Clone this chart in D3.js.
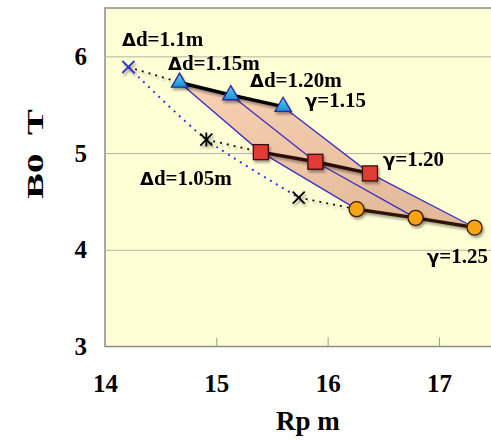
<!DOCTYPE html>
<html>
<head>
<meta charset='UTF-8'>
<title>B0 vs Rp</title>
<script src='https://cdn.jsdelivr.net/npm/d3@7/dist/d3.min.js'></script>
<style>
  body {margin:0; background:#fff;}
  text {font-family:'Liberation Serif','Times New Roman',serif; font-weight:bold; fill:#000;}
  .sym {font-family:'DejaVu Sans',sans-serif; font-weight:bold;}
</style>
</head>
<body>
<div id='chart'></div>
<script>
// ---- data ----
var rpTri = [14.67, 15.13, 15.60];   // gamma = 1.15 row
var b0Tri = [5.73, 5.60, 5.48];
var rpSq = [15.40, 15.89, 16.38];    // gamma = 1.20 row
var b0Sq = [5.01, 4.91, 4.79];
var rpCirc = [16.26, 16.79, 17.32];  // gamma = 1.25 row
var b0Circ = [4.42, 4.33, 4.23];
var rpCross = [14.21, 14.91, 15.74]; // delta d = 1.05m points
var b0Cross = [5.89, 5.14, 4.54];
var xTicks = [14, 15, 16, 17];
var yTicks = [3, 4, 5, 6];

var W = 491, H = 440;
var pLeft = 105, pTop = 8, pRight = 494.6, pBottom = 346.5;

var x = d3.scaleLinear().domain([14, 17.5]).range([pLeft, pRight]);
var y = d3.scaleLinear().domain([3, 6.5]).range([pBottom, pTop]);

var svg = d3.select('#chart').append('svg')
  .attr('width', W).attr('height', H);

var defs = svg.append('defs');
var sh = defs.append('filter').attr('id', 'shadow')
  .attr('x', '-50%').attr('y', '-50%').attr('width', '200%').attr('height', '200%');
sh.append('feDropShadow').attr('dx', 1.5).attr('dy', 2.5)
  .attr('stdDeviation', 1.2).attr('flood-color', '#000').attr('flood-opacity', 0.35);

var grad = defs.append('linearGradient').attr('id', 'band')
  .attr('x1', '0').attr('y1', '0').attr('x2', '1').attr('y2', '1');
grad.append('stop').attr('offset', '0%').attr('stop-color', '#f8d2b2');
grad.append('stop').attr('offset', '100%').attr('stop-color', '#dfb696');

var triGrad = defs.append('linearGradient').attr('id', 'tri')
  .attr('x1', '0').attr('y1', '0').attr('x2', '0').attr('y2', '1');
triGrad.append('stop').attr('offset', '0%').attr('stop-color', '#5fd0f5');
triGrad.append('stop').attr('offset', '100%').attr('stop-color', '#1a8fd6');

/* plot background */
svg.append('rect')
  .attr('x', pLeft).attr('y', pTop)
  .attr('width', W - pLeft + 5).attr('height', pBottom - pTop)
  .attr('fill', '#ffffd6')
  .attr('stroke', '#8c8c8c').attr('stroke-width', 1.5);

/* horizontal grid */
svg.append('g')
  .attr('transform', `translate(${pLeft},0)`)
  .call(d3.axisLeft(y).tickValues([4, 5, 6]).tickSize(-(W - pLeft)).tickFormat(''))
  .call(g => g.select('.domain').remove())
  .call(g => g.selectAll('line').attr('stroke', '#b4b4a2').attr('stroke-width', 1));

/* short inner ticks on x */
svg.append('g')
  .attr('transform', `translate(0,${pBottom})`)
  .call(d3.axisTop(x).tickValues([15, 16, 17]).tickSize(9).tickFormat(''))
  .call(g => g.select('.domain').remove())
  .call(g => g.selectAll('line').attr('stroke', '#9a9a88'));

/* axes labels */
svg.append('g')
  .attr('transform', `translate(${pLeft},0)`)
  .call(d3.axisLeft(y).tickValues(yTicks).tickSize(0).tickPadding(18).tickFormat(d3.format('d')))
  .call(g => g.select('.domain').remove())
  .call(g => g.selectAll('text').style('font-size', '25px').attr('fill', '#000'));

svg.append('g')
  .attr('transform', `translate(0,${pBottom})`)
  .call(d3.axisBottom(x).tickValues(xTicks).tickSize(0).tickPadding(28).tickFormat(d3.format('d')))
  .call(g => g.select('.domain').remove())
  .call(g => g.selectAll('text').style('font-size', '25px').attr('fill', '#000'));

svg.append('text')
  .attr('x', 308).attr('y', 430)
  .attr('text-anchor', 'middle')
  .style('font-size', '27px')
  .text('Rp m');

svg.append('text')
  .attr('transform', 'translate(43,154) rotate(-90)')
  .attr('text-anchor', 'middle')
  .attr('textLength', 90)
  .attr('lengthAdjust', 'spacingAndGlyphs')
  .style('font-size', '23px')
  .style('white-space', 'pre')
  .text('B0  T');

/* shaded band */
var band = [];
rpTri.forEach((v, i) => band.push([v, b0Tri[i]]));
band.push([rpSq[2], b0Sq[2]]);
for (var i = 2; i >= 0; i--) band.push([rpCirc[i], b0Circ[i]]);
band.push([rpSq[0], b0Sq[0]]);

var line = d3.line().x(d => x(d[0])).y(d => y(d[1]));

svg.append('path')
  .attr('d', line(band) + 'Z')
  .attr('fill', 'url(#band)');

/* constant delta d lines */
for (var i = 0; i < 3; i++) {
  svg.append('path')
    .attr('d', line([[rpTri[i], b0Tri[i]], [rpSq[i], b0Sq[i]], [rpCirc[i], b0Circ[i]]]))
    .attr('fill', 'none')
    .attr('stroke', '#3b2fc4')
    .attr('stroke-width', 1.3);
}

/* blue dotted curve through the crosses */
var curve = d3.line().x(d => x(d[0])).y(d => y(d[1])).curve(d3.curveCardinal.tension(0.3));
svg.append('path')
  .attr('d', curve(rpCross.map((v, i) => [v, b0Cross[i]])))
  .attr('fill', 'none')
  .attr('stroke', '#2a3ae0')
  .attr('stroke-width', 2)
  .attr('stroke-dasharray', '2,5');

/* black dotted links from crosses to first marker of each row */
var firsts = [[rpTri[0], b0Tri[0]], [rpSq[0], b0Sq[0]], [rpCirc[0], b0Circ[0]]];
firsts.forEach((f, i) => {
  svg.append('path')
    .attr('d', line([[rpCross[i], b0Cross[i]], f]))
    .attr('fill', 'none')
    .attr('stroke', '#111')
    .attr('stroke-width', 1.8)
    .attr('stroke-dasharray', '2,5')
    .attr('filter', 'url(#shadow)');
});

/* thick row lines */
var rows = [
  {xs: rpTri, ys: b0Tri, c: '#000'},
  {xs: rpSq, ys: b0Sq, c: '#2a0c06'},
  {xs: rpCirc, ys: b0Circ, c: '#2e1208'}
];
rows.forEach(r => {
  svg.append('path')
    .attr('d', line(r.xs.map((v, i) => [v, r.ys[i]])))
    .attr('fill', 'none')
    .attr('stroke', r.c)
    .attr('stroke-width', 3.5)
    .attr('filter', 'url(#shadow)');
});

/* markers */
var mk = svg.append('g').attr('filter', 'url(#shadow)');

mk.selectAll('.tri')
  .data(rpTri).enter()
  .append('path')
  .attr('class', 'tri')
  .attr('d', d3.symbol().type(d3.symbolTriangle).size(115))
  .attr('transform', (d, i) => `translate(${x(d)},${y(b0Tri[i])})`)
  .attr('fill', 'url(#tri)')
  .attr('stroke', '#2a2a9a')
  .attr('stroke-width', 1.3);

mk.selectAll('.sq')
  .data(rpSq).enter()
  .append('rect')
  .attr('class', 'sq')
  .attr('x', d => x(d) - 7.5)
  .attr('y', (d, i) => y(b0Sq[i]) - 7.5)
  .attr('width', 15).attr('height', 15)
  .attr('fill', '#e23b36')
  .attr('stroke', '#3a0a08')
  .attr('stroke-width', 1.3);

mk.selectAll('.circ')
  .data(rpCirc).enter()
  .append('circle')
  .attr('class', 'circ')
  .attr('cx', d => x(d))
  .attr('cy', (d, i) => y(b0Circ[i]))
  .attr('r', 7.5)
  .attr('fill', '#f6a417')
  .attr('stroke', '#3a1a05')
  .attr('stroke-width', 1.3);

/* cross markers */
var cross = svg.append('g').attr('filter', 'url(#shadow)');
var s = 6;
function xmark(px, py, col) {
  cross.append('path')
    .attr('d', `M${px - s},${py - s}L${px + s},${py + s}M${px - s},${py + s}L${px + s},${py - s}`)
    .attr('stroke', col).attr('stroke-width', 1.8).attr('fill', 'none');
}
xmark(x(rpCross[0]), y(b0Cross[0]), '#3535c8');
xmark(x(rpCross[1]), y(b0Cross[1]), '#000');
cross.append('path')
  .attr('d', `M${x(rpCross[1])},${y(b0Cross[1]) - 7}L${x(rpCross[1])},${y(b0Cross[1]) + 7}`)
  .attr('stroke', '#000').attr('stroke-width', 1.8);
xmark(x(rpCross[2]), y(b0Cross[2]), '#000');

/* annotations: symbol glyph + rest */
var notes = [
  {s: 'Δ', t: 'd=1.1m', x: 122, y: 46},
  {s: 'Δ', t: 'd=1.15m', x: 168, y: 70},
  {s: 'Δ', t: 'd=1.20m', x: 250, y: 87},
  {s: 'γ', t: '=1.15', x: 305, y: 107},
  {s: 'γ', t: '=1.20', x: 383, y: 166},
  {s: 'Δ', t: 'd=1.05m', x: 140, y: 185},
  {s: 'γ', t: '=1.25', x: 427, y: 263}
];
var nt = svg.selectAll('.note')
  .data(notes).enter()
  .append('text')
  .attr('class', 'note')
  .attr('x', d => d.x).attr('y', d => d.y)
  .style('font-size', '21px');
nt.append('tspan').attr('class', 'sym').style('font-size', '18px').text(d => d.s);
nt.append('tspan').text(d => d.t);
</script>
</body>
</html>
